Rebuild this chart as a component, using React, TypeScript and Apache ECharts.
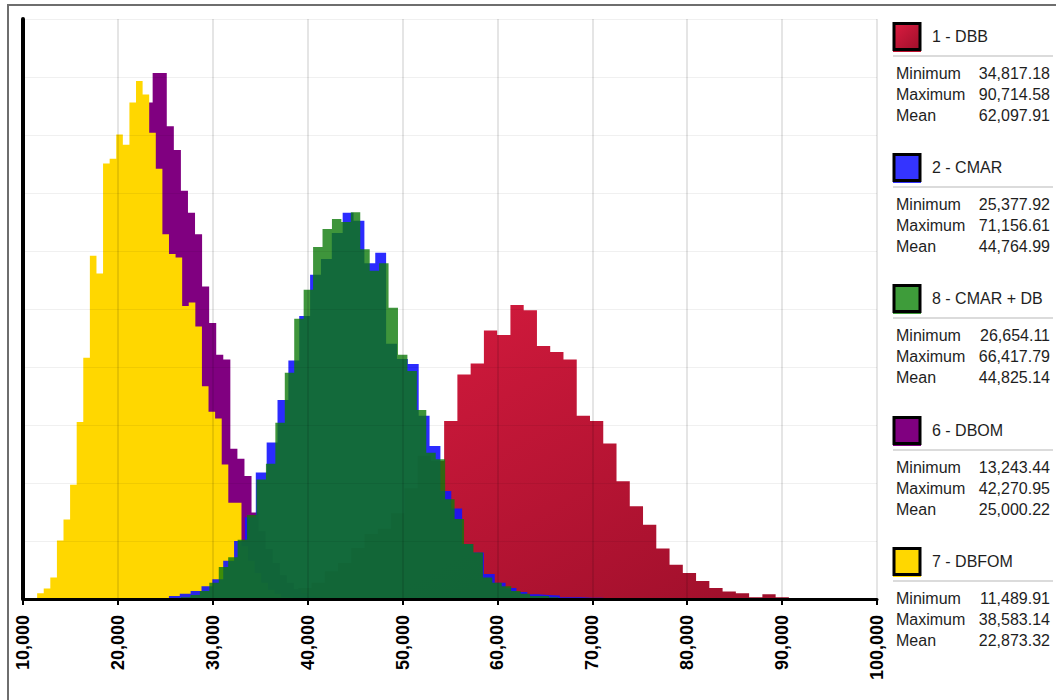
import React, { useEffect, useRef } from "react";
import * as echarts from "echarts";

// ---------- axis ----------
const X_MIN = 10000;
const X_MAX = 100000;
const X_STEP = 10000;
const Y_MAX = 1000;
const Y_STEP = 100;

// ---------- legend statistics (legend order) ----------
const legendNames = ["1 - DBB", "2 - CMAR", "8 - CMAR + DB", "6 - DBOM", "7 - DBFOM"];
const legendMinimums = [34817.18, 25377.92, 26654.11, 13243.44, 11489.91];
const legendMaximums = [90714.58, 71156.61, 66417.79, 42270.95, 38583.14];
const legendMeans = [62097.91, 44764.99, 44825.14, 25000.22, 22873.32];

// ---------- histogram bin heights (relative frequency, bins span min..max) ----------
const dbbCounts = [3, 7, 10, 19, 28, 48, 62, 88, 112, 121, 148, 191, 247, 238, 307, 387, 406, 463, 455, 507,
  498, 436, 426, 413, 316, 307, 268, 203, 160, 128, 87, 59, 45, 31, 19, 13, 10, 3, 8, 3];
const cmarCounts = [5, 9, 14, 22, 34, 66, 100, 141, 218, 270, 343, 411, 488, 559, 586, 631, 666, 652, 579, 597,
  440, 414, 405, 316, 264, 186, 156, 95, 80, 43, 28, 19, 12, 8, 7, 6, 3, 3, 2, 2];
const cmarDbCounts = [3, 7, 14, 28, 55, 72, 102, 145, 206, 233, 304, 390, 483, 533, 607, 638, 655, 650, 667, 603,
  566, 579, 502, 421, 393, 326, 252, 241, 172, 138, 95, 80, 37, 28, 22, 14, 9, 5, 5, 3];
const dbomCounts = [2, 5, 14, 31, 57, 100, 160, 255, 359, 479, 600, 703, 772, 856, 907, 907, 815, 774, 704, 666,
  629, 539, 476, 421, 413, 259, 242, 212, 149, 117, 86, 62, 41, 28, 17, 10, 5, 3, 1];
const dbfomCounts = [10, 18, 37, 101, 137, 197, 305, 416, 592, 561, 751, 759, 801, 783, 856, 893, 870, 804, 742, 629,
  595, 589, 505, 511, 470, 367, 323, 311, 232, 166, 166, 91, 66, 45, 28, 16, 9, 3, 2];

const countsByLegend = [dbbCounts, cmarCounts, cmarDbCounts, dbomCounts, dbfomCounts];
// drawing order (back to front), as indexes into the legend arrays
const drawOrder = [0, 3, 4, 1, 2];

const FONT = "'Liberation Sans', Arial, sans-serif";

function redGradient() {
  return new echarts.graphic.LinearGradient(0, 0, 1, 1, [
    { offset: 0, color: "#dc1c40" },
    { offset: 1, color: "#9e0f2b" },
  ]);
}

const areaColors = [
  () => redGradient(),
  () => "rgba(20,20,255,0.9)",
  () => "rgba(14,122,10,0.8)",
  () => "#800080",
  () => "#ffd700",
];
const legendSwatch = [
  () => redGradient(),
  () => "#3434ff",
  () => "#3e9c3a",
  () => "#800080",
  () => "#ffd700",
];
const underlineColors = ["#c0102e", "#3434ff", "#3e9c3a", "#800080", "#ffd700"];

function histogramPoints(min: number, max: number, counts: number[]) {
  const n = counts.length;
  const w = (max - min) / n;
  const pts: number[][] = counts.map((c, i) => [min + i * w, c]);
  pts.push([max, 0]);
  return pts;
}

const fmt2 = (v: number) =>
  v.toLocaleString("en-US", { minimumFractionDigits: 2, maximumFractionDigits: 2 });

function buildLegend() {
  const els: any[] = [];
  const statLabels = ["Minimum", "Maximum", "Mean"];
  legendNames.forEach((name, i) => {
    const top = Math.round(22 + 131.2 * i);
    els.push({
      type: "rect",
      shape: { x: 894, y: top + 1.5, width: 26, height: 26 },
      style: { fill: legendSwatch[i](), stroke: "#000", lineWidth: 3 },
      silent: true,
    });
    els.push({
      type: "line",
      shape: { x1: 893, y1: top + 29.5, x2: 921, y2: top + 29.5 },
      style: { stroke: underlineColors[i], lineWidth: 1 },
      silent: true,
    });
    els.push({
      type: "text",
      style: {
        text: name, x: 932, y: top + 14, fontSize: 16, fontFamily: FONT,
        fill: "#1e1e1e", align: "left", verticalAlign: "middle",
      },
      silent: true,
    });
    els.push({
      type: "line",
      shape: { x1: 893, y1: top + 34, x2: 1053, y2: top + 34 },
      style: { stroke: "#cfcfcf", lineWidth: 1.5 },
      silent: true,
    });
    const vals = [legendMinimums[i], legendMaximums[i], legendMeans[i]];
    statLabels.forEach((lab, j) => {
      const y = top + 51 + j * 21.3;
      els.push({
        type: "text",
        style: {
          text: lab, x: 896, y, fontSize: 16, fontFamily: FONT,
          fill: "#1e1e1e", align: "left", verticalAlign: "middle",
        },
        silent: true,
      });
      els.push({
        type: "text",
        style: {
          text: fmt2(vals[j]), x: 1050, y, fontSize: 16, fontFamily: FONT,
          fill: "#1e1e1e", align: "right", verticalAlign: "middle",
        },
        silent: true,
      });
    });
  });
  // outer frame
  els.push({
    type: "rect",
    shape: { x: 8, y: 5, width: 1100, height: 800 },
    style: { fill: "none", stroke: "#6e6e6e", lineWidth: 2 },
    silent: true,
  });
  return els;
}

export default function App() {
  const ref = useRef<HTMLDivElement>(null);

  useEffect(() => {
    if (!ref.current) return;
    const chart = echarts.init(ref.current, null, { renderer: "svg" });

    const series = drawOrder.map((idx) => ({
      type: "line",
      name: legendNames[idx],
      step: "end",
      symbol: "none",
      showSymbol: false,
      silent: true,
      z: 2,
      data: histogramPoints(legendMinimums[idx], legendMaximums[idx], countsByLegend[idx]),
      lineStyle: { width: 0, opacity: 0 },
      areaStyle: { color: areaColors[idx](), opacity: 1 },
    }));

    chart.setOption({
      animation: false,
      backgroundColor: "#ffffff",
      grid: { left: 23, right: 179, top: 19, bottom: 101, containLabel: false },
      xAxis: {
        type: "value",
        min: X_MIN,
        max: X_MAX,
        interval: X_STEP,
        z: 10,
        axisLine: { show: true, onZero: false, lineStyle: { color: "#000", width: 3 } },
        axisTick: { show: true, length: 6, lineStyle: { color: "#000", width: 2 } },
        axisLabel: {
          rotate: 90,
          margin: 16,
          showMinLabel: true,
          showMaxLabel: true,
          fontFamily: FONT,
          fontSize: 18,
          fontWeight: "bold",
          color: "#000",
          formatter: (v: number) => v.toLocaleString("en-US"),
        },
        splitLine: { show: true, lineStyle: { color: "rgba(0,0,0,0.1)", width: 2 } },
      },
      yAxis: {
        type: "value",
        min: 0,
        max: Y_MAX,
        interval: Y_STEP,
        z: 10,
        axisLine: { show: true, lineStyle: { color: "#000", width: 4 } },
        axisTick: { show: false },
        axisLabel: { show: false },
        splitLine: { show: true, lineStyle: { color: "rgba(0,0,0,0.06)", width: 1 } },
      },
      series,
      graphic: buildLegend(),
    });

    return () => chart.dispose();
  }, []);

  return (
    <div
      ref={ref}
      style={{ position: "absolute", left: 0, top: 0, width: 1056, height: 700 }}
    />
  );
}
